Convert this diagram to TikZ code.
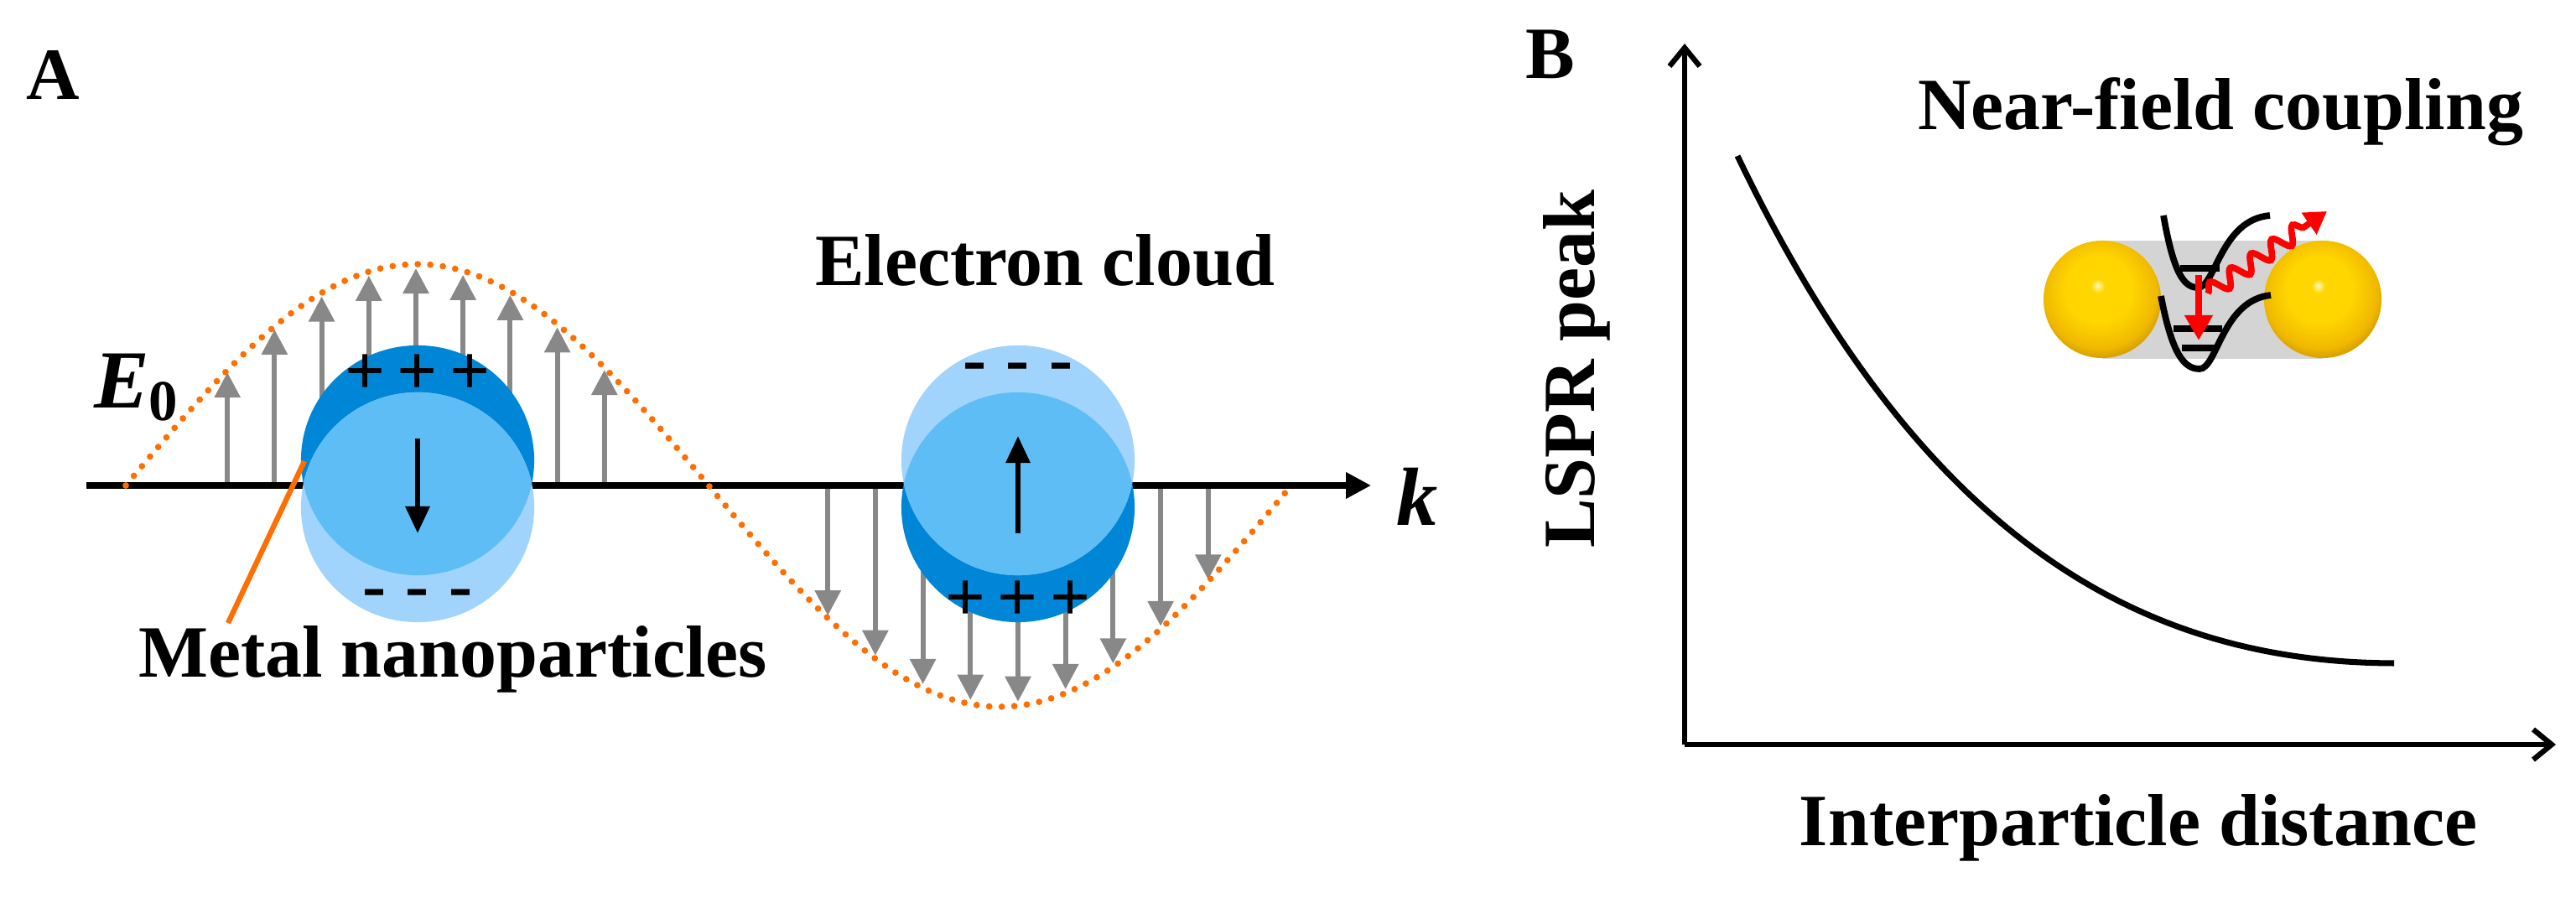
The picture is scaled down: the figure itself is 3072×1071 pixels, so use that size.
\documentclass[tikz,border=0pt]{standalone}
\usepackage{fontspec}
\setmainfont{Liberation Serif}
\usetikzlibrary{arrows.meta,decorations.pathmorphing,shadings}
\definecolor{dkb}{RGB}{0,134,214}
\definecolor{ltb}{RGB}{160,212,252}
\definecolor{mdb}{RGB}{95,189,246}
\definecolor{orng}{RGB}{255,110,0}
\definecolor{gry}{RGB}{136,136,136}
\definecolor{goldhi}{RGB}{255,250,190}
\definecolor{golda}{RGB}{255,214,0}
\definecolor{goldb}{RGB}{240,185,0}
\definecolor{goldc}{RGB}{205,150,0}
\pgfdeclareradialshading{goldball}{\pgfpoint{-2bp}{6bp}}{color(0bp)=(goldhi); color(3bp)=(golda); color(14bp)=(golda); color(24bp)=(goldb); color(29bp)=(goldc); color(50bp)=(goldc)}
\begin{document}
\begin{tikzpicture}[x=0.01cm,y=-0.01cm,
  lbl/.style={font=\fontsize{25}{28}\selectfont\bfseries,inner sep=0},
  chg/.style={font=\fontsize{24}{26}\selectfont\bfseries,inner sep=0},
  garrow/.style={gry,line width=1.7pt,-{Triangle[width=0.3cm,length=0.3cm]}},
  barrow/.style={black,line width=1.7pt,-{Triangle[width=0.28cm,length=0.32cm]}},
  axisA/.style={black,line width=2pt,-{Triangle[length=0.3cm,width=0.3cm]}},
  axis/.style={black,line width=1.8pt,-{Straight Barb[length=0.22cm,width=0.36cm]}},
  wave/.style={orng,line width=2.2pt,line cap=round,dash pattern=on 0pt off 0.15cm},
  well/.style={black,line width=2.2pt},
  sph/.style={shading=goldball}]
\useasboundingbox (0,0) rectangle (3072,1071);
% ---------------- Panel A ----------------
\node[lbl] (A) at (63,89) {A};
\foreach \k in {-4,...,4}{
  \pgfmathsetmacro{\xa}{496+56.2*\k}
  \pgfmathsetmacro{\ya}{579-259*sin(deg((\xa-150)/695*pi))}
  \coordinate (u\k) at (\xa,579);
  \coordinate (ut\k) at (\xa,\ya);
  \draw[garrow] (u\k) -- (ut\k);
  \pgfmathsetmacro{\xb}{1214+56.7*\k}
  \pgfmathsetmacro{\yb}{579-259*sin(deg((\xb-150)/695*pi))}
  \coordinate (d\k) at (\xb,579);
  \coordinate (dt\k) at (\xb,\yb);
  \draw[garrow] (d\k) -- (dt\k);
}
\coordinate (ax0) at (103,579);
\coordinate (ax1) at (1635,579);
\draw[axisA] (ax0) -- (ax1);
\node[lbl,font=\fontsize{28}{30}\selectfont\bfseries\itshape] (k) at (1690,592) {k};
\draw[wave] plot[domain=150:1540,samples=120] (\x,{579-264*sin(deg((\x-150)/695*pi))});
\node[lbl,font=\fontsize{28}{30}\selectfont\bfseries] (E0) at (163,462) {\textit{E}$_{\mathbf{0}}$};
% particle 1
\fill[dkb] (498,549) ellipse [x radius=1.39cm,y radius=1.37cm];
\fill[ltb] (498,605) ellipse [x radius=1.39cm,y radius=1.37cm];
\begin{scope}
\clip (498,549) ellipse [x radius=1.39cm,y radius=1.37cm];
\fill[mdb] (498,605) ellipse [x radius=1.39cm,y radius=1.37cm];
\end{scope}
\node[chg] (p1p) at (498,447) {+\,+\,+};
\node[chg] (p1m) at (498,715) {-\;-\;-};
\coordinate (a1s) at (498,523);
\coordinate (a1e) at (498,636);
\draw[barrow] (a1s) -- (a1e);
% particle 2
\fill[dkb] (1214,605) ellipse [x radius=1.39cm,y radius=1.37cm];
\fill[ltb] (1214,549) ellipse [x radius=1.39cm,y radius=1.37cm];
\begin{scope}
\clip (1214,605) ellipse [x radius=1.39cm,y radius=1.37cm];
\fill[mdb] (1214,549) ellipse [x radius=1.39cm,y radius=1.37cm];
\end{scope}
\node[chg] (p2m) at (1214,445) {-\;-\;-};
\node[chg] (p2p) at (1214,717) {+\,+\,+};
\coordinate (a2s) at (1214,636);
\coordinate (a2e) at (1214,520);
\draw[barrow] (a2s) -- (a2e);
\node[lbl] (metal) at (540,786) {Metal nanoparticles};
\coordinate (mtip) at (363,550);
\draw[orng,line width=1.8pt] (mtip) -- (272,743);
\node[lbl] (cloud) at (1246,311) {Electron cloud};
% ---------------- Panel B ----------------
\node[lbl] (B) at (1849,65) {B};
\coordinate (org) at (2009,888);
\coordinate (ytop) at (2009,52);
\coordinate (xend) at (3048,888);
\draw[axis] (org) -- (ytop);
\draw[axis] (org) -- (xend);
\node[lbl,rotate=90] (ylab) at (1880,440) {LSPR peak};
\node[lbl] (xlab) at (2550,987) {Interparticle distance};
\coordinate (c0) at (2072,186);
\coordinate (c1) at (2855,791);
\draw[black,line width=2pt] (c0) .. controls (2290,640) and (2550,790) .. (c1);
\node[lbl] (nf) at (2648,133) {Near-field coupling};
% inset
\fill[black!17] (2507,287) rectangle (2770,428);
\shade[sph] (2507,357) circle [radius=0.70cm];
\shade[sph] (2770,357) circle [radius=0.70cm];
\draw[well] (2580,257) .. controls (2592,325) and (2604,343) .. (2621,343) .. controls (2642,343) and (2648,262) .. (2707,257);
\draw[well] (2600,320) -- (2647,320);
\draw[well] (2577,353) .. controls (2590,421) and (2604,440) .. (2623,440) .. controls (2644,440) and (2650,358) .. (2708,352);
\draw[well] (2592,392) -- (2650,392);
\draw[well] (2602,415) -- (2643,415);
\coordinate (rs) at (2622,328);
\coordinate (re) at (2622,406);
\draw[red,line width=2.4pt,-{Triangle[width=0.32cm,length=0.3cm]}] (rs) -- (re);
\coordinate (ws) at (2633,350);
\coordinate (we) at (2775,252);
\draw[red,line width=2.2pt,-{Triangle[width=0.3cm,length=0.26cm]},
  decoration={snake,amplitude=0.1cm,segment length=0.3cm,post length=0.3cm},decorate] (ws) -- (we);
\end{tikzpicture}
\end{document}
